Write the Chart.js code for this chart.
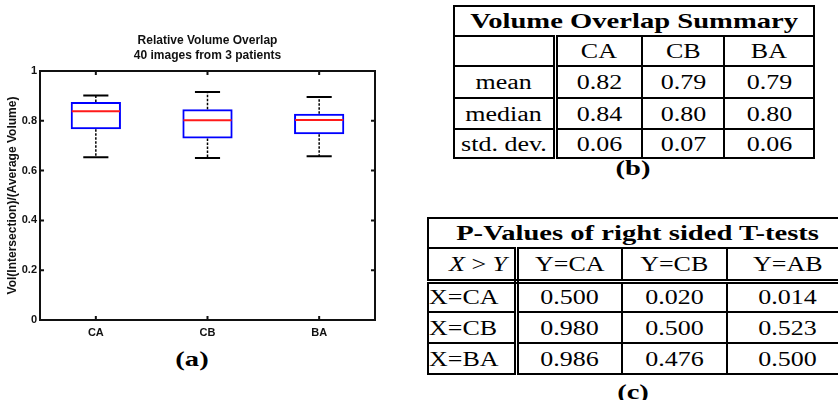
<!DOCTYPE html>
<html lang="en">
<head>
    <meta charset="UTF-8">
    <title>Relative Volume Overlap</title>
    <style>
        body {
            margin: 0;
            background-color: #fff;
            width: 838px;
            height: 400px;
            position: relative;
            overflow: hidden;
            font-family: "Liberation Serif", serif;
            color: #000;
        }
        #chart-box {
            position: absolute;
            left: 0;
            top: 0;
            width: 420px;
            height: 345px;
        }
        .caption {
            position: absolute;
            font-weight: bold;
            font-size: 22px;
            transform: translate(-50%, -50%) scaleX(1.3);
            line-height: 1;
        }
        table {
            position: absolute;
            border-collapse: collapse;
            table-layout: fixed;
            font-size: 20px;
        }
        td {
            border: 2px solid #000;
            padding: 0;
            text-align: center;
            line-height: 1;
            white-space: nowrap;
        }
        td span {
            display: inline-block;
            transform: scaleX(1.3);
        }
        td.title {
            font-weight: bold;
            font-size: 22px;
        }
        td.first {
            border-right: 5px double #000;
        }
        #summary {
            left: 453px;
            top: 5px;
            width: 360px;
        }
        #pvalues {
            left: 427px;
            top: 217px;
            width: 420px;
        }
        #pvalues tr.head td {
            border-bottom: 5px double #000;
        }
        #pvalues td.first {
            text-align: left;
        }
        #pvalues td.first span {
            transform-origin: left center;
        }
    </style>
    <script src="https://cdn.jsdelivr.net/npm/chart.js"></script>
</head>
<body>
    <div id="chart-box">
        <canvas id="chart" width="420" height="345"></canvas>
    </div>
    <div class="caption" style="left:192px; top:359px;">(a)</div>

    <table id="summary"></table>
    <div class="caption" style="left:633px; top:168px;">(b)</div>

    <table id="pvalues"></table>
    <div class="caption" style="left:633px; top:392px;">(c)</div>

    <script>
        // boxplot data
        const categories = ['CA', 'CB', 'BA'];
        const whiskerLow = [0.654, 0.651, 0.658];
        const q1 = [0.766, 0.729, 0.746];
        const medians = [0.838, 0.802, 0.803];
        const q3 = [0.876, 0.846, 0.828];
        const whiskerHigh = [0.902, 0.916, 0.896];
        const yTicks = [0, 0.2, 0.4, 0.6, 0.8, 1];

        // summary table (b)
        const statNames = ['mean', 'median', 'std. dev.'];
        const meanVals = ['0.82', '0.79', '0.79'];
        const medianVals = ['0.84', '0.80', '0.80'];
        const stdVals = ['0.06', '0.07', '0.06'];

        // p-value table (c)
        const pColumns = ['Y=CA', 'Y=CB', 'Y=AB'];
        const pRows = ['X=CA', 'X=CB', 'X=BA'];
        const pCA = ['0.500', '0.020', '0.014'];
        const pCB = ['0.980', '0.500', '0.523'];
        const pBA = ['0.986', '0.476', '0.500'];

        const cell = (txt, cls) => `<td${cls ? ` class="${cls}"` : ''}><span>${txt}</span></td>`;

        function buildSummary() {
            const t = document.getElementById('summary');
            const widths = [101, 87, 82, 90];
            let html = '<colgroup>' + widths.map(w => `<col style="width:${w}px">`).join('') + '</colgroup>';
            html += '<tr style="height:30px"><td class="title" colspan="4"><span>Volume Overlap Summary</span></td></tr>';
            html += '<tr style="height:30px">' + cell('', 'first') + categories.map(c => cell(c)).join('') + '</tr>';
            const rows = [meanVals, medianVals, stdVals];
            const heights = [32, 31, 29];
            rows.forEach((vals, i) => {
                html += `<tr style="height:${heights[i]}px">` + cell(statNames[i], 'first') +
                    vals.map(v => cell(v)).join('') + '</tr>';
            });
            t.innerHTML = html;
        }

        function buildPValues() {
            const t = document.getElementById('pvalues');
            const widths = [88, 106, 105, 121];
            let html = '<colgroup>' + widths.map(w => `<col style="width:${w}px">`).join('') + '</colgroup>';
            html += '<tr style="height:30px"><td class="title" colspan="4"><span>P-Values of right sided T-tests</span></td></tr>';
            html += '<tr class="head" style="height:33px"><td class="first" style="text-align:center"><span><i>X</i> &gt; <i>Y</i></span></td>' +
                pColumns.map(c => cell(c)).join('') + '</tr>';
            const rows = [pCA, pCB, pBA];
            rows.forEach((vals, i) => {
                html += '<tr style="height:31px">' + cell(pRows[i], 'first') +
                    vals.map(v => cell(v)).join('') + '</tr>';
            });
            t.innerHTML = html;
        }

        // medians, whiskers, inward ticks and the axes frame
        const boxExtras = {
            id: 'boxExtras',
            afterDatasetsDraw(chart) {
                const ctx = chart.ctx;
                const x = chart.scales.x;
                const y = chart.scales.y;
                const bars = chart.getDatasetMeta(0).data;
                ctx.save();
                categories.forEach((c, i) => {
                    const cx = x.getPixelForValue(i);
                    const w = bars[i].width;
                    // whiskers
                    ctx.strokeStyle = '#000';
                    ctx.lineWidth = 1.5;
                    ctx.setLineDash([2.5, 1.5]);
                    ctx.beginPath();
                    ctx.moveTo(cx, y.getPixelForValue(q3[i]));
                    ctx.lineTo(cx, y.getPixelForValue(whiskerHigh[i]));
                    ctx.moveTo(cx, y.getPixelForValue(q1[i]));
                    ctx.lineTo(cx, y.getPixelForValue(whiskerLow[i]));
                    ctx.stroke();
                    // caps
                    ctx.setLineDash([]);
                    ctx.lineWidth = 2;
                    ctx.beginPath();
                    [whiskerHigh[i], whiskerLow[i]].forEach(v => {
                        const py = y.getPixelForValue(v);
                        ctx.moveTo(cx - w / 4, py);
                        ctx.lineTo(cx + w / 4, py);
                    });
                    ctx.stroke();
                    // median
                    ctx.strokeStyle = '#ff1a1a';
                    ctx.lineWidth = 2;
                    ctx.beginPath();
                    const my = y.getPixelForValue(medians[i]);
                    ctx.moveTo(cx - w / 2 + 1, my);
                    ctx.lineTo(cx + w / 2 - 1, my);
                    ctx.stroke();
                });
                ctx.restore();
            },
            afterDraw(chart) {
                const ctx = chart.ctx;
                const a = chart.chartArea;
                const x = chart.scales.x;
                const y = chart.scales.y;
                ctx.save();
                ctx.strokeStyle = '#111';
                ctx.lineWidth = 2;
                ctx.strokeRect(a.left, a.top, a.right - a.left, a.bottom - a.top);
                ctx.beginPath();
                yTicks.forEach(v => {
                    const py = y.getPixelForValue(v);
                    ctx.moveTo(a.left, py);
                    ctx.lineTo(a.left + 4, py);
                    ctx.moveTo(a.right, py);
                    ctx.lineTo(a.right - 4, py);
                });
                categories.forEach((c, i) => {
                    const px = x.getPixelForValue(i);
                    ctx.moveTo(px, a.bottom);
                    ctx.lineTo(px, a.bottom - 4);
                    ctx.moveTo(px, a.top);
                    ctx.lineTo(px, a.top + 4);
                });
                ctx.stroke();
                ctx.restore();
            }
        };

        function renderChart() {
            const ctx = document.getElementById('chart').getContext('2d');
            const axisFont = { family: 'Liberation Sans', size: 11, weight: 'bold' };
            new Chart(ctx, {
                type: 'bar',
                data: {
                    labels: categories,
                    datasets: [{
                        label: 'IQR',
                        data: categories.map((c, i) => [q1[i], q3[i]]),
                        backgroundColor: 'rgba(255, 255, 255, 0)',
                        borderColor: '#0000ff',
                        borderWidth: 2,
                        borderSkipped: false,
                        barPercentage: 0.45,
                        categoryPercentage: 1
                    }]
                },
                options: {
                    responsive: false,
                    animation: false,
                    layout: {
                        padding: { left: 0, right: 45, top: 0, bottom: 0 }
                    },
                    plugins: {
                        legend: { display: false },
                        tooltip: { enabled: false },
                        title: {
                            display: true,
                            fullSize: false,
                            text: ['Relative Volume Overlap', '40 images from 3 patients'],
                            color: '#111',
                            font: { family: 'Liberation Sans', size: 12, weight: 'bold', lineHeight: 1.25 },
                            padding: { top: 33, bottom: 8 }
                        }
                    },
                    scales: {
                        x: {
                            grid: { display: false, drawTicks: false, tickLength: 0 },
                            border: { display: false },
                            ticks: { color: '#111', padding: 6, font: axisFont },
                            afterFit: s => { s.height = 25; }
                        },
                        y: {
                            min: 0,
                            max: 1,
                            afterBuildTicks: s => { s.ticks = yTicks.map(v => ({ value: v })); },
                            grid: { display: false, drawTicks: false, tickLength: 0 },
                            border: { display: false },
                            ticks: {
                                color: '#111',
                                padding: 3,
                                font: axisFont,
                                callback: v => String(v)
                            },
                            title: {
                                display: true,
                                text: 'Vol(Intersection)/(Average Volume)',
                                color: '#111',
                                padding: { top: 5, bottom: 0 },
                                font: { family: 'Liberation Sans', size: 12, weight: 'bold' }
                            },
                            afterFit: s => { s.width = 40; }
                        }
                    }
                },
                plugins: [boxExtras]
            });
        }

        buildSummary();
        buildPValues();
        renderChart();
    </script>
</body>
</html>
